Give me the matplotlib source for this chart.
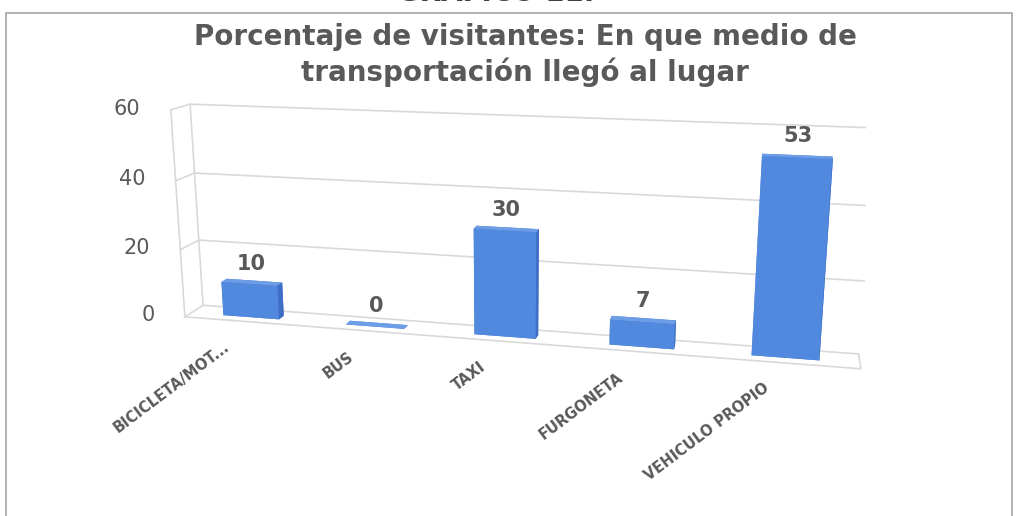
import numpy as np
import matplotlib
matplotlib.use('Agg')
import matplotlib.pyplot as plt
from matplotlib.patches import Rectangle
from mpl_toolkits.mplot3d import proj3d

categorias = ['BICICLETA/MOT...', 'BUS', 'TAXI', 'FURGONETA', 'VEHICULO PROPIO']
porcentajes = [10, 0, 30, 7, 53]
ticks_y = [0, 20, 40, 60]

titulo = 'Porcentaje de visitantes: En que medio de\ntransportación llegó al lugar'
encabezado = 'GRÁFICO 11.'

gris = '#595959'
linea = '#D9D9D9'
# colores de las caras: abajo, arriba, frente, atras, izquierda, derecha
caras = ['#4A7BD0', '#6E9DE8', '#5189DF', '#4A7BD0', '#4A7BD0', '#3E6EC6']

plt.rcParams['font.family'] = ['DejaVu Sans']

fig = plt.figure(figsize=(10.18, 5.16), dpi=100)
# caja cuadrada grande (los ejes 3D se ajustan a un cuadrado)
ax = fig.add_axes([0.124, -0.18, 0.727, 1.434], projection='3d', computed_zorder=False)
ax.set_proj_type('persp', focal_length=0.3)
ax.view_init(elev=14, azim=-77)

x = np.arange(len(categorias))
ancho = 0.46
x0, x1 = -0.5, len(categorias) - 0.5
y0, y1 = 0.0, 1.0

# pared lateral y del fondo: lineas de cuadricula
for t in ticks_y:
    ax.plot([x0, x0, x1], [y0, y1, y1], [t, t, t], color=linea, lw=1.2, zorder=1)
ax.plot([x0, x0], [y0, y0], [0, ticks_y[-1]], color=linea, lw=1.2, zorder=1)
ax.plot([x0, x0], [y1, y1], [0, ticks_y[-1]], color=linea, lw=1.2, zorder=1)
# suelo
ax.plot([x0, x1, x1], [y0, y0, y1], [0, 0, 0], color=linea, lw=1.2, zorder=1)

# barras
for i, v in enumerate(porcentajes):
    ax.bar3d(x[i] - ancho / 2, 0.35, 0, ancho, 0.3, v,
             color=caras, shade=False, zorder=2 + i)
    ax.text(x[i], 0.5, v + 2.5, str(v), zdir=None, ha='center', va='bottom',
            fontsize=15, fontweight='bold', color=gris, zorder=10)

for t in ticks_y:
    ax.text(x0 - 0.25, y0, t, str(t), zdir=None, ha='right', va='center',
            fontsize=15, color=gris, zorder=10)

ax.set_xlim(x0, x1)
ax.set_ylim(y0, y1)
ax.set_zlim(0, ticks_y[-1])
ax.set_box_aspect((5, 0.3, 1.6), zoom=0.96)
ax.set_axis_off()

# etiquetas de categoria giradas, ancladas al borde delantero del suelo
M = ax.get_proj()
for i, nombre in enumerate(categorias):
    px, py, _ = proj3d.proj_transform(x[i], y0, 0, M)
    ax.annotate(nombre, (px, py), xycoords='data', xytext=(-13, -17),
                textcoords='offset points', ha='right', va='center',
                rotation=37, rotation_mode='anchor', annotation_clip=False,
                fontsize=10.5, fontweight='bold', color=gris)

fig.text(0.516, 0.893, titulo, ha='center', va='center', fontsize=20,
         fontweight='bold', color=gris, linespacing=1.3)
fig.text(0.487, 0.999, encabezado, ha='center', va='baseline', fontsize=20,
         fontweight='bold', color='#404040')
fig.add_artist(Rectangle((0.006, -0.02), 0.988, 0.995, transform=fig.transFigure,
                         fill=False, edgecolor='#A6A6A6', lw=1.2))

fig.savefig('out.png', dpi=100)
